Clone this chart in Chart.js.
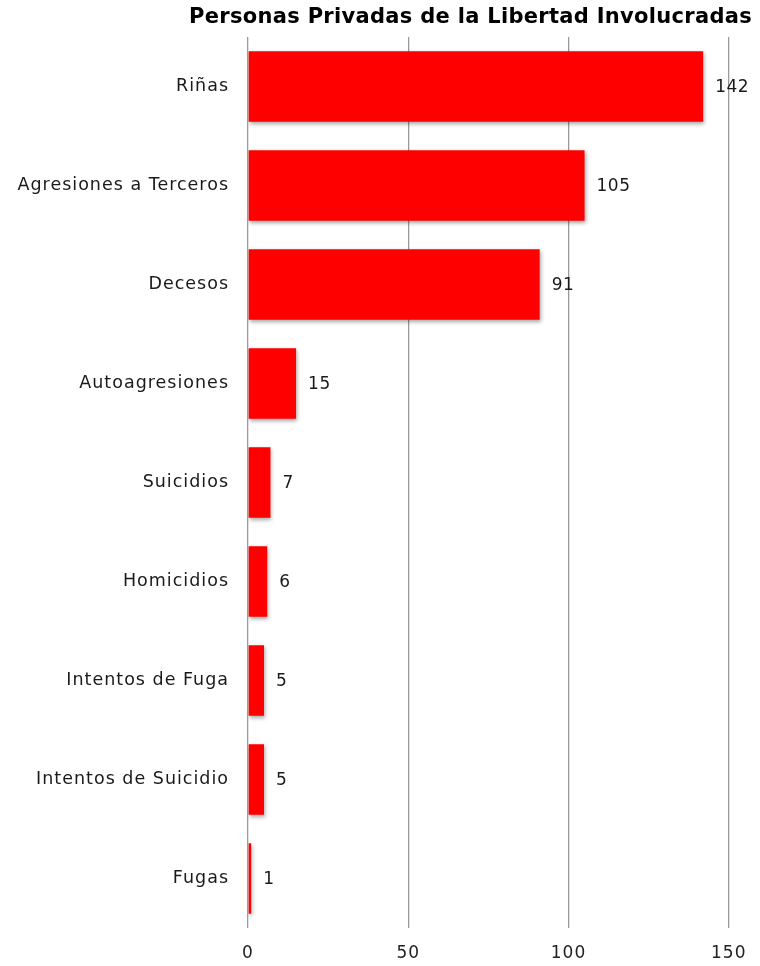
<!DOCTYPE html>
<html>
<head>
<meta charset="utf-8">
<script src="https://cdn.jsdelivr.net/npm/chart.js@4"></script>
<style>
  html, body { margin: 0; padding: 0; background: #fff; }
  #wrap { width: 760px; height: 966px; }
</style>
</head>
<body>
<div id="wrap"><canvas id="grafica" width="760" height="966"></canvas></div>
<script>
// datos
const categorias = ["Riñas", "Agresiones a Terceros", "Decesos", "Autoagresiones", "Suicidios",
                    "Homicidios", "Intentos de Fuga", "Intentos de Suicidio", "Fugas"];
const personas   = [142, 105, 91, 15, 7, 6, 5, 5, 1];
const ticksX     = [0, 50, 100, 150];
const titulo     = "Personas Privadas de la Libertad Involucradas";

const fuente = "'DejaVu Sans', sans-serif";

// la fuente original es mas ancha: un poco de espaciado entre letras
const espaciado = {
  id: "espaciado",
  beforeInit(chart) { chart.ctx.letterSpacing = "1px"; },
  beforeDraw(chart) { chart.ctx.letterSpacing = "1px"; }
};

// sombra ligera bajo las barras
const sombra = {
  id: "sombra",
  beforeDatasetsDraw(chart) {
    const ctx = chart.ctx;
    ctx.save();
    ctx.shadowColor = "rgba(0,0,0,0.35)";
    ctx.shadowBlur = 4;
    ctx.shadowOffsetX = 1;
    ctx.shadowOffsetY = 2;
  },
  afterDatasetsDraw(chart) {
    chart.ctx.restore();
  }
};

// etiquetas con el valor al final de cada barra + titulo alineado a la derecha
const etiquetas = {
  id: "etiquetas",
  afterDatasetsDraw(chart) {
    const ctx = chart.ctx;
    const meta = chart.getDatasetMeta(0);
    ctx.save();
    ctx.letterSpacing = "0.5px";
    ctx.font = "17px " + fuente;
    ctx.fillStyle = "#1a1a1a";
    ctx.textAlign = "left";
    ctx.textBaseline = "middle";
    meta.data.forEach((bar, i) => {
      ctx.fillText(String(chart.data.datasets[0].data[i]), bar.x + 12, bar.y + 1);
    });
    ctx.letterSpacing = "0.3px";
    ctx.font = "bold 21px " + fuente;
    ctx.fillStyle = "#000";
    ctx.textAlign = "right";
    ctx.fillText(titulo, 752, 18);
    ctx.restore();
  }
};

new Chart(document.getElementById("grafica"), {
  type: "bar",
  data: {
    labels: categorias,
    datasets: [{
      data: personas,
      backgroundColor: "#ff0000",
      borderWidth: 0,
      categoryPercentage: 1,
      barPercentage: 0.71
    }]
  },
  options: {
    indexAxis: "y",
    responsive: false,
    animation: false,
    layout: { padding: { left: 0, right: 27, top: 37, bottom: 0 } },
    plugins: {
      legend: { display: false },
      tooltip: { enabled: false },
      title: { display: false }
    },
    scales: {
      x: {
        min: 0,
        max: 150,
        afterBuildTicks: s => { s.ticks = ticksX.map(v => ({ value: v })); },
        afterFit: s => { s.height = 38; },
        grid: { color: "#9a9a9a", lineWidth: 1.3, drawTicks: false },
        border: { display: false },
        ticks: {
          padding: 15,
          color: "#222",
          font: { family: fuente, size: 17 }
        }
      },
      y: {
        afterFit: s => { s.width = 248; },
        grid: { display: false, drawTicks: false },
        border: { display: false },
        ticks: {
          padding: 19,
          color: "#1a1a1a",
          font: { family: fuente, size: 17.5 }
        }
      }
    }
  },
  plugins: [espaciado, sombra, etiquetas]
});
</script>
</body>
</html>
